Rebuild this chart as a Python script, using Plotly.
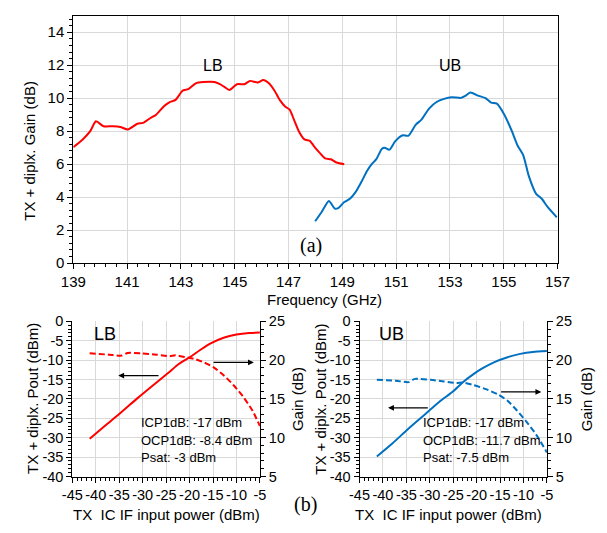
import plotly.graph_objects as go

# ---------------- data ----------------
lb_freq = [139.0, 139.35, 139.63, 139.84, 140.12, 140.47, 140.75, 141.03, 141.38, 141.59, 141.87, 142.08,
           142.36, 142.57, 142.8, 143.06, 143.27, 143.55, 143.83, 144.25, 144.45, 144.6, 144.8, 145.08,
           145.36, 145.57, 145.85, 146.06, 146.27, 146.48, 146.69, 146.87, 147.04, 147.2, 147.38, 147.59,
           147.8, 147.94, 148.15, 148.36, 148.57, 148.78, 149.07]
lb_gain = [7.03, 7.5, 8.0, 8.6, 8.3, 8.3, 8.25, 8.1, 8.45, 8.5, 8.8, 9.0,
           9.5, 9.75, 9.9, 10.45, 10.55, 10.9, 10.98, 10.98, 10.85, 10.7, 10.5, 10.85,
           10.85, 11.05, 10.95, 11.1, 10.9, 10.45, 9.85, 9.5, 9.3, 8.7, 8.0, 7.5,
           7.4, 7.1, 6.7, 6.35, 6.3, 6.1, 6.0]

ub_freq = [147.99, 148.23, 148.5, 148.72, 148.86, 149.07, 149.28, 149.49, 149.7, 149.91, 150.09, 150.26,
           150.47, 150.57, 150.75, 150.96, 151.24, 151.45, 151.73, 151.94, 152.22, 152.5, 152.78, 153.06,
           153.41, 153.55, 153.76, 154.04, 154.32, 154.53, 154.74, 155.02, 155.3, 155.51, 155.72, 155.93,
           156.2, 156.41, 156.62, 156.97]
ub_gain = [2.54, 3.1, 3.77, 3.3, 3.35, 3.7, 3.9, 4.3, 4.9, 5.57, 6.0, 6.3,
           6.93, 7.0, 6.88, 7.38, 7.75, 7.72, 8.4, 8.7, 9.37, 9.77, 9.96, 10.06,
           10.02, 10.12, 10.35, 10.16, 10.0, 9.73, 9.67, 9.0, 8.0, 7.13, 6.55, 5.27,
           4.2, 3.9, 3.42, 2.77]

lb_pin = [-41.3, -37.9, -34.5, -31.1, -27.7, -24.65, -22.3, -19.9, -17.5, -15.5, -12.75, -10.0, -7.3, -5.0]
lb_pout = [-30.25, -26.8, -23.4, -19.8, -16.4, -13.4, -11.0, -9.2, -7.2, -5.7, -4.25, -3.4, -3.0, -2.9]
lb_gpin = [-41.3, -37.2, -34.5, -33.2, -30.4, -27.0, -24.3, -23.0, -20.9, -18.9, -16.8, -14.8, -12.8,
           -10.7, -8.7, -6.6, -5.0]
lb_gainc = [20.88, 20.7, 20.58, 20.92, 20.88, 20.7, 20.5, 20.62, 20.38, 20.13, 19.67, 19.04, 18.08,
            16.83, 15.38, 13.5, 11.5]

ub_pin = [-41.3, -38.0, -34.86, -32.5, -30.1, -27.7, -25.0, -23.0, -20.9, -18.9, -16.2, -13.4, -10.7, -8.0, -5.0]
ub_pout = [-34.85, -31.5, -28.0, -25.5, -23.0, -20.5, -18.0, -15.75, -13.8, -12.2, -10.5, -9.25, -8.4, -7.9, -7.67]
ub_gpin = [-41.3, -37.2, -34.5, -33.2, -29.8, -27.0, -24.3, -23.0, -20.9, -18.2, -15.5, -13.4, -11.4,
           -9.35, -7.3, -5.0]
ub_gainc = [17.46, 17.33, 17.16, 17.58, 17.46, 17.25, 17.04, 17.12, 16.83, 16.29, 15.6, 14.75, 13.5,
            12.04, 10.4, 8.1]

freq_ticks = list(range(139, 158, 2))
gain_ticks = list(range(0, 15, 2))
pin_ticks = list(range(-45, -4, 5))
pout_ticks = list(range(-40, 1, 5))
gainb_ticks = list(range(5, 26, 5))

RED = "#ff0000"
BLUE = "#0070c0"
FONT = "Liberation Sans, Arial, sans-serif"
SERIF = "Liberation Serif, Times New Roman, serif"
GRID = "#d9d9d9"

fig = go.Figure()

# (a) top
fig.add_trace(go.Scatter(x=lb_freq, y=lb_gain, mode="lines", line=dict(color=RED, width=2, shape="spline", smoothing=0.6),
                         xaxis="x", yaxis="y", showlegend=False))
fig.add_trace(go.Scatter(x=ub_freq, y=ub_gain, mode="lines", line=dict(color=BLUE, width=2, shape="spline", smoothing=0.6),
                         xaxis="x", yaxis="y", showlegend=False))

# (b) LB
fig.add_trace(go.Scatter(x=lb_pin, y=lb_pout, mode="lines", line=dict(color=RED, width=2, shape="spline", smoothing=0.6),
                         xaxis="x2", yaxis="y2", showlegend=False))
fig.add_trace(go.Scatter(x=lb_gpin, y=lb_gainc, mode="lines",
                         line=dict(color=RED, width=2, dash="6px,3px", shape="spline", smoothing=0.6),
                         xaxis="x2", yaxis="y3", showlegend=False))
# (b) UB
fig.add_trace(go.Scatter(x=ub_pin, y=ub_pout, mode="lines", line=dict(color=BLUE, width=2, shape="spline", smoothing=0.6),
                         xaxis="x3", yaxis="y4", showlegend=False))
fig.add_trace(go.Scatter(x=ub_gpin, y=ub_gainc, mode="lines",
                         line=dict(color=BLUE, width=2, dash="6px,3px", shape="spline", smoothing=0.6),
                         xaxis="x3", yaxis="y5", showlegend=False))

tickfont = dict(family=FONT, size=15, color="black")
tickfont_b = dict(family=FONT, size=14.5, color="black")

common = dict(showline=True, linecolor="black", linewidth=1, ticks="outside", ticklen=5, tickcolor="black",
              tickwidth=1, zeroline=False)

fig.update_layout(
    width=607, height=533, margin=dict(l=0, r=0, t=0, b=0),
    paper_bgcolor="white", plot_bgcolor="white",
    font=dict(family=FONT, color="black"),
    xaxis=dict(domain=[0.1038, 0.9374], anchor="y", range=[139, 157], tickvals=freq_ticks,
               ticktext=[str(v) for v in freq_ticks], tickfont=tickfont, mirror=True,
               showgrid=True, gridcolor=GRID, gridwidth=1,
               minor=dict(dtick=0.4, tick0=139, ticks="outside", ticklen=3, tickcolor="black", showgrid=False),
               **common),
    yaxis=dict(domain=[0.5066, 0.985], anchor="x", range=[0, 15], tickvals=gain_ticks,
               ticktext=[str(v) for v in gain_ticks], tickfont=tickfont, mirror=True,
               showgrid=True, gridcolor=GRID, gridwidth=1,
               minor=dict(dtick=0.4, tick0=0, ticks="outside", ticklen=3, tickcolor="black", showgrid=False),
               **common),
    xaxis2=dict(domain=[0.1021, 0.425], anchor="y2", range=[-45, -5], tickvals=pin_ticks,
                ticktext=[str(v) for v in pin_ticks], tickfont=tickfont_b,
                showgrid=True, gridcolor=GRID,
                minor=dict(dtick=1, tick0=-45, ticks="outside", ticklen=3, tickcolor="black", showgrid=False),
                **common),
    yaxis2=dict(domain=[0.0938, 0.394], anchor="x2", range=[-40, 0], tickvals=pout_ticks,
                ticktext=[str(v) for v in pout_ticks], tickfont=tickfont_b,
                showgrid=True, gridcolor=GRID,
                minor=dict(dtick=1, tick0=-40, ticks="outside", ticklen=3, tickcolor="black", showgrid=False),
                **common),
    yaxis3=dict(overlaying="y2", side="right", anchor="x2", range=[5, 25], tickvals=gainb_ticks,
                ticktext=[str(v) for v in gainb_ticks], tickfont=tickfont_b, showgrid=False,
                minor=dict(dtick=1, tick0=5, ticks="outside", ticklen=3, tickcolor="black", showgrid=False),
                **common),
    xaxis3=dict(domain=[0.5964, 0.919], anchor="y4", range=[-45, -5], tickvals=pin_ticks,
                ticktext=[str(v) for v in pin_ticks], tickfont=tickfont_b,
                showgrid=True, gridcolor=GRID,
                minor=dict(dtick=1, tick0=-45, ticks="outside", ticklen=3, tickcolor="black", showgrid=False),
                **common),
    yaxis4=dict(domain=[0.0938, 0.394], anchor="x3", range=[-40, 0], tickvals=pout_ticks,
                ticktext=[str(v) for v in pout_ticks], tickfont=tickfont_b,
                showgrid=True, gridcolor=GRID,
                minor=dict(dtick=1, tick0=-40, ticks="outside", ticklen=3, tickcolor="black", showgrid=False),
                **common),
    yaxis5=dict(overlaying="y4", side="right", anchor="x3", range=[5, 25], tickvals=gainb_ticks,
                ticktext=[str(v) for v in gainb_ticks], tickfont=tickfont_b, showgrid=False,
                minor=dict(dtick=1, tick0=5, ticks="outside", ticklen=3, tickcolor="black", showgrid=False),
                **common),
)

ann = []


def txt(text, x, y, xref, yref, size, family=FONT, angle=0, xanchor="center"):
    ann.append(dict(text=text, x=x, y=y, xref=xref, yref=yref, showarrow=False, textangle=angle,
                    xanchor=xanchor, yanchor="middle", font=dict(family=family, size=size, color="black")))


# axis titles
txt("TX + diplx. Gain (dB)", 0.027, 0.7233, "paper", "paper", 15, angle=-90)
txt("Frequency (GHz)", 0.5354, 0.437, "paper", "paper", 15)
txt("TX + diplx. Pout (dBm)", 0.0346, 0.244, "paper", "paper", 15, angle=-90)
txt("Gain (dB)", 0.491, 0.244, "paper", "paper", 15, angle=-90)
txt("TX + diplx. Pout (dBm)", 0.530, 0.244, "paper", "paper", 15, angle=-90)
txt("Gain (dB)", 0.987, 0.244, "paper", "paper", 15, angle=-90)
txt("TX\u00a0 IC IF input power (dBm)", 0.2636, 0.0206, "paper", "paper", 15)
txt("TX\u00a0 IC IF input power (dBm)", 0.749, 0.0206, "paper", "paper", 15)

# labels
txt("LB", 144.2, 12.0, "x", "y", 16)
txt("UB", 153.0, 12.0, "x", "y", 16)
txt("(a)", 147.85, 1.07, "x", "y", 20, family=SERIF)
txt("(b)", 0.504, 0.0394, "paper", "paper", 20, family=SERIF)
txt("LB", -38.1, -3.25, "x2", "y2", 18)
txt("UB", -38.1, -3.25, "x3", "y4", 18)

for i, t in enumerate(["ICP1dB: -17 dBm", "OCP1dB: -8.4 dBm", "Psat: -3 dBm"]):
    txt(t, -30.7, [-26.1, -30.7, -35.1][i], "x2", "y2", 13, xanchor="left")
for i, t in enumerate(["ICP1dB: -17 dBm", "OCP1dB: -11.7 dBm", "Psat: -7.5 dBm"]):
    txt(t, -31.9, [-26.1, -30.7, -35.1][i], "x3", "y4", 13, xanchor="left")


def arrow(x_tip, x_tail, y, xref, yref):
    ann.append(dict(x=x_tip, y=y, ax=x_tail, ay=y, xref=xref, yref=yref, axref=xref, ayref=yref,
                    text="", showarrow=True, arrowhead=2, arrowsize=0.9, arrowwidth=1.3, arrowcolor="black"))


arrow(-35.2, -26.3, -14.0, "x2", "y2")
arrow(-6.3, -15.2, -10.6, "x2", "y2")
arrow(-38.9, -30.1, -22.3, "x3", "y4")
arrow(-6.2, -15.1, -18.2, "x3", "y4")

fig.update_layout(annotations=ann)
fig.write_html("out.html", config={"displayModeBar": False},
               post_script="document.body.style.margin='0';document.body.style.overflow='hidden';")
